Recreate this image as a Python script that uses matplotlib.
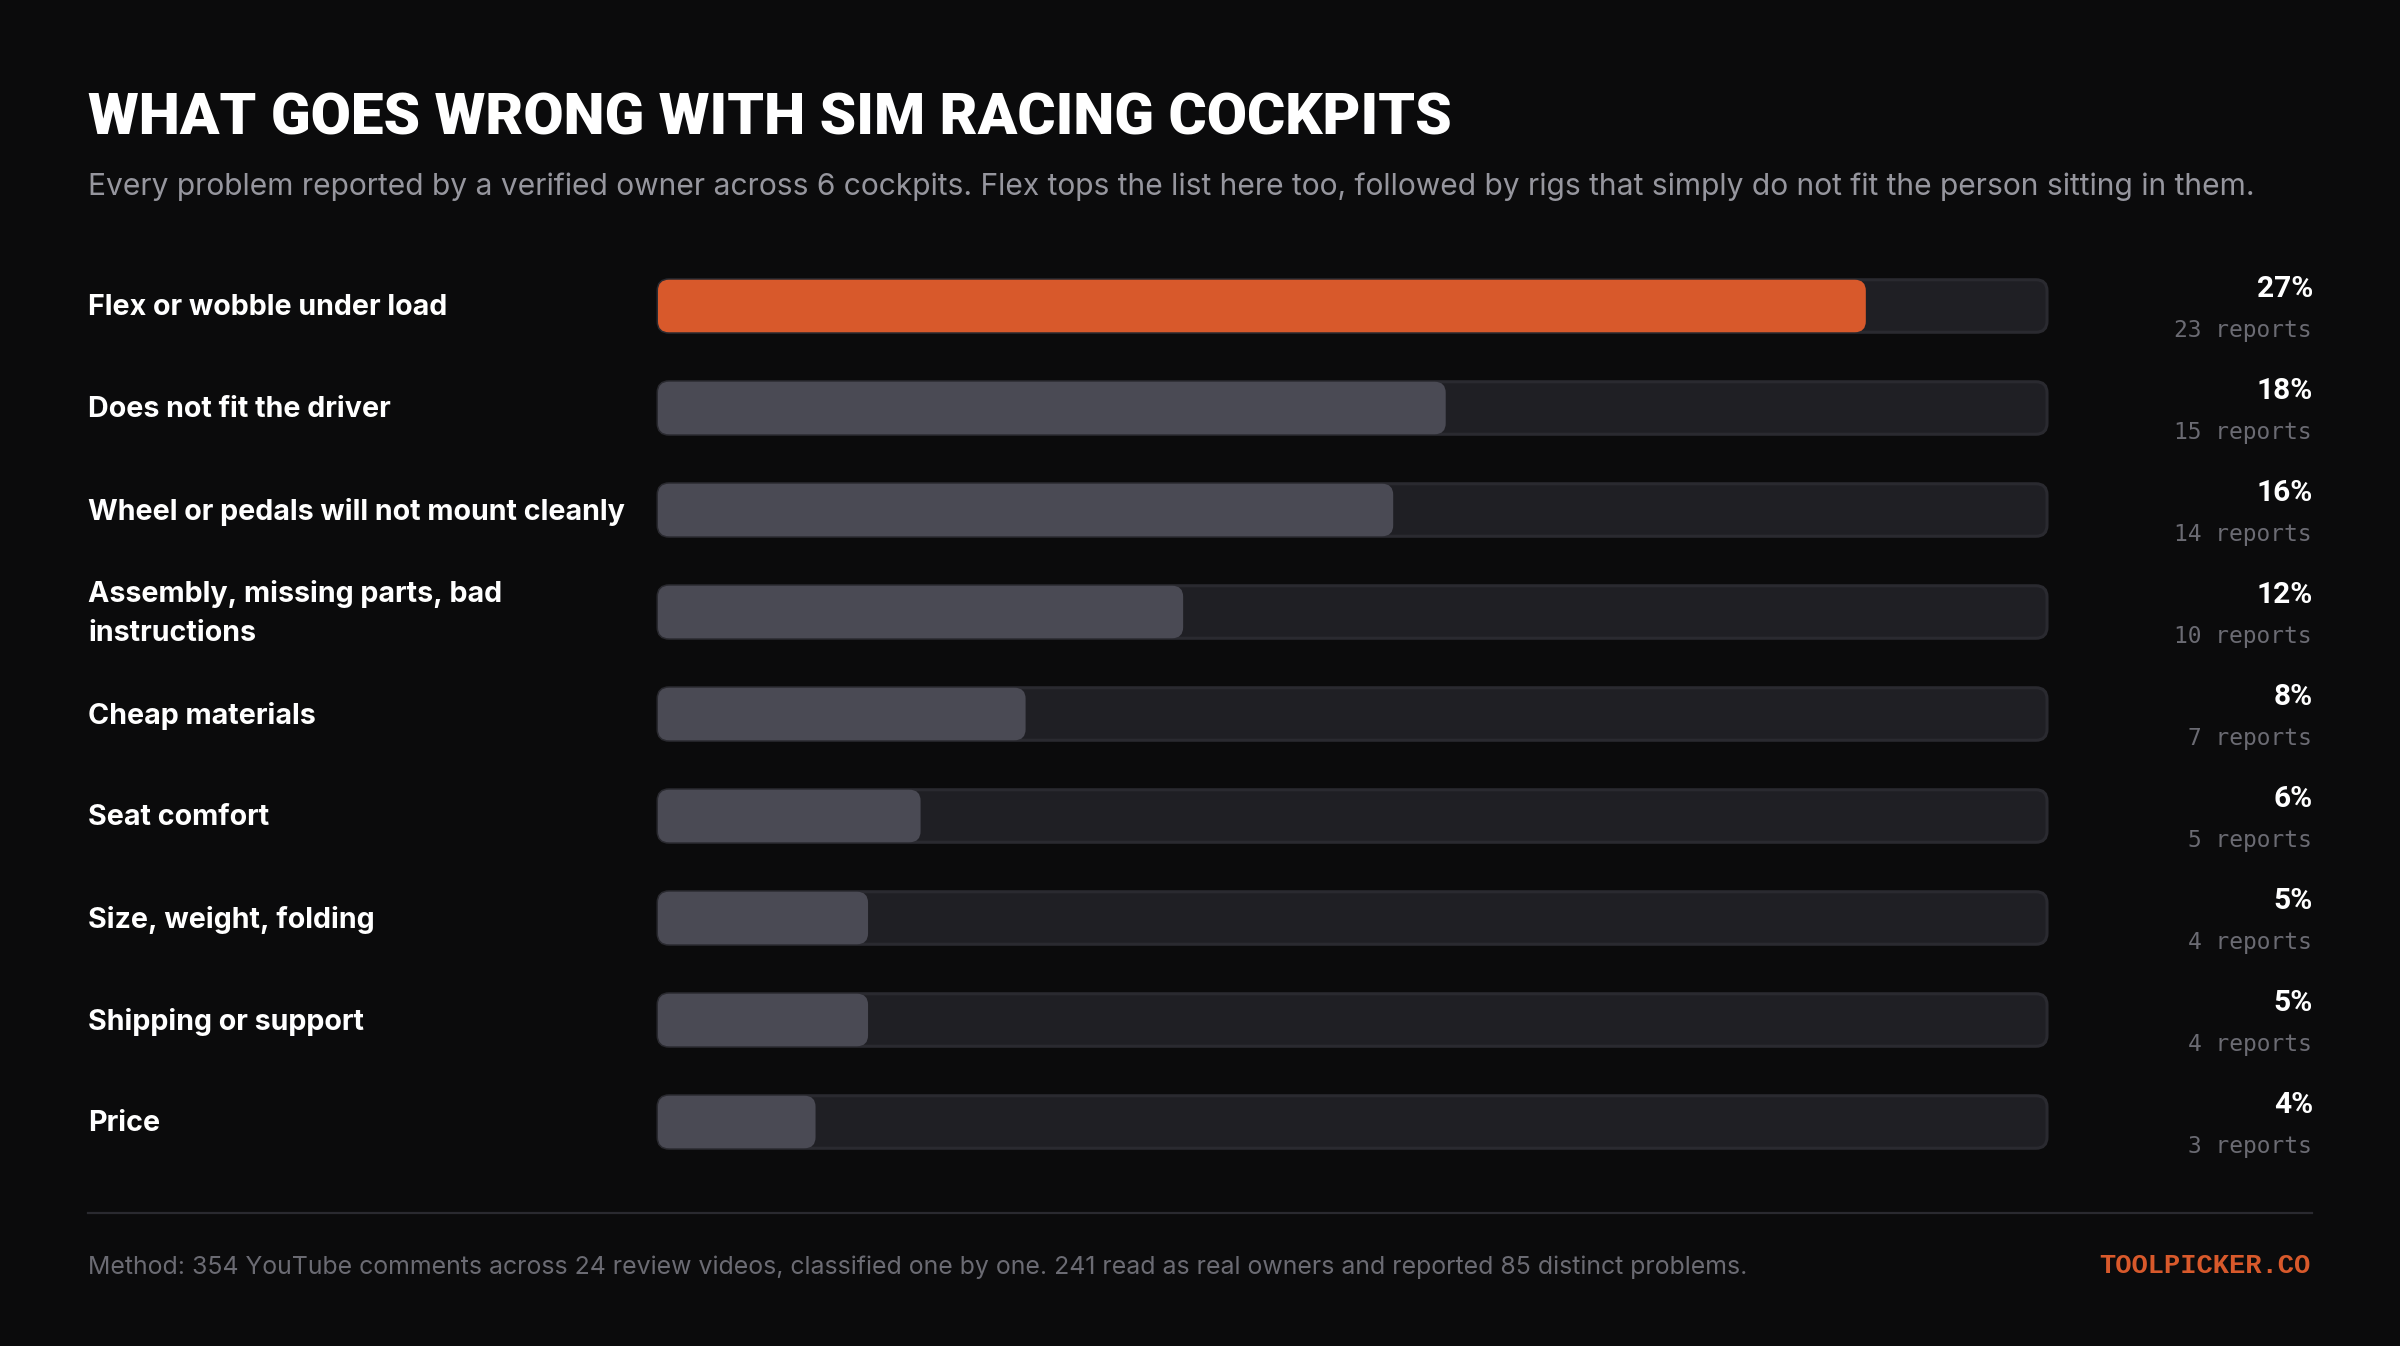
import matplotlib
matplotlib.use("Agg")
import matplotlib.pyplot as plt
from matplotlib.patches import FancyBboxPatch

# data
labels = [
    "Flex or wobble under load",
    "Does not fit the driver",
    "Wheel or pedals will not mount cleanly",
    "Assembly, missing parts, bad\ninstructions",
    "Cheap materials",
    "Seat comfort",
    "Size, weight, folding",
    "Shipping or support",
    "Price",
]
reports = [23, 15, 14, 10, 7, 5, 4, 4, 3]
shares = [27, 18, 16, 12, 8, 6, 5, 5, 4]

title = "WHAT GOES WRONG WITH SIM RACING COCKPITS"
subtitle = ("Every problem reported by a verified owner across 6 cockpits. Flex tops the list "
            "here too, followed by rigs that simply do not fit the person sitting in them.")
method = ("Method: 354 YouTube comments across 24 review videos, classified one by one. "
          "241 read as real owners and reported 85 distinct problems.")
brand = "TOOLPICKER.CO"

BG = "#0b0b0c"
TRACK = "#1f1f24"
EDGE = "#2a2a30"
GREY = "#4a4a54"
ORANGE = "#d8592b"
W, H = 2400, 1346

fig = plt.figure(figsize=(W / 100, H / 100), dpi=100, facecolor=BG)

# overlay in image pixels for the text
page = fig.add_axes([0, 0, 1, 1])
page.set_xlim(0, W)
page.set_ylim(H, 0)
page.axis("off")

# bars: one row per category, x in reports
x0, x1 = 658, 2047
row0, step = 306, 102
ax = fig.add_axes([x0 / W, 1 - (row0 + 8.5 * step) / H, (x1 - x0) / W, 9 * step / H])
xmax = max(reports) * 1.15
ax.set_xlim(0, xmax)
ax.set_ylim(8.5, -0.5)
ax.axis("off")
ax.patch.set_alpha(0)

px_x = (x1 - x0) / xmax
aspect = px_x / step
radius = 11 / px_x
bar_h = 52.5 / step

for i, val in enumerate(reports):
    ax.add_patch(FancyBboxPatch((0, i - bar_h / 2), xmax, bar_h,
                                boxstyle=f"round,pad=0,rounding_size={radius}",
                                mutation_aspect=aspect, fc=TRACK, ec=EDGE, lw=2.2, clip_on=False))
    ax.add_patch(FancyBboxPatch((0, i - bar_h / 2), val, bar_h,
                                boxstyle=f"round,pad=0,rounding_size={radius}",
                                mutation_aspect=aspect, fc=ORANGE if i == 0 else GREY, ec="none", clip_on=False))

    y = row0 + i * step
    page.text(88, y + 1.5, labels[i], color="white", fontsize=20.65, family="Inter", weight="bold",
              va="center", ha="left", linespacing=1.55)
    page.text(2313, y - 17, f"{shares[i]}%", color="white", fontsize=21.5, family="Roboto", weight="bold",
              va="center", ha="right")
    page.text(2312, y + 24, f"{reports[i]} reports", color="#6b6b73", fontsize=16.5, family="DejaVu Sans Mono",
              va="center", ha="right")

page.text(88, 119, title, color="white", fontsize=42, family="Roboto", weight=900, va="center", ha="left")
page.text(88, 187, subtitle, color="#96969e", fontsize=21.58, family="Inter", va="center", ha="left")

page.plot([88, 2312], [1212.5, 1212.5], color=EDGE, lw=1.6)
page.text(88, 1267, method, color="#6b6b73", fontsize=17.9, family="Inter", va="center", ha="left")
page.text(2311, 1266, brand, color=ORANGE, fontsize=19.5, family="Liberation Mono", weight="bold",
          va="center", ha="right")

fig.savefig("out.png", dpi=100, facecolor=BG)
